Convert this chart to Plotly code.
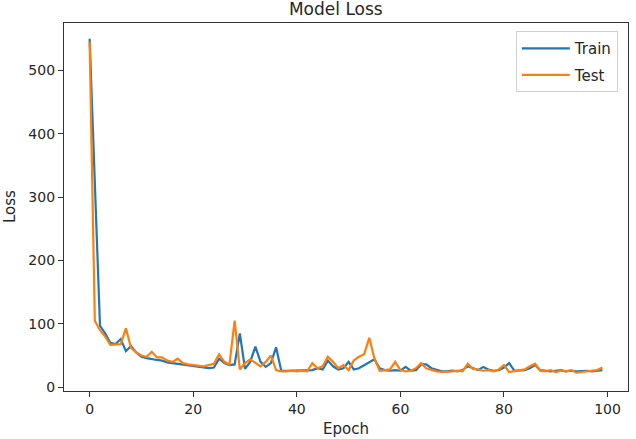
import plotly.graph_objects as go

epochs = list(range(100))

train_loss = [550, 330, 97, 85, 70, 68, 76, 57, 65, 55,
              48, 46, 44, 43, 42, 39, 38, 37, 35, 34,
              33, 32, 31, 30, 31, 45, 38, 35, 36, 85,
              29, 40, 64, 40, 32, 38, 63, 26, 26, 26,
              26, 27, 26, 27, 30, 28, 42, 33, 28, 30,
              40, 28, 30, 35, 40, 44, 30, 27, 26, 27,
              26, 32, 26, 27, 36, 36, 30, 27, 25, 25,
              26, 25, 27, 33, 30, 27, 32, 28, 26, 27,
              31, 38, 26, 27, 27, 30, 35, 27, 26, 25,
              26, 27, 25, 26, 25, 26, 26, 25, 26, 27]

test_loss = [545, 105, 90, 80, 67, 67, 68, 93, 62, 55,
             50, 48, 56, 47, 47, 42, 40, 45, 38, 36,
             35, 34, 33, 35, 37, 52, 40, 36, 105, 28,
             38, 44, 38, 33, 40, 50, 27, 25, 25, 26,
             25, 26, 25, 38, 30, 33, 48, 40, 30, 35,
             27, 42, 48, 52, 78, 45, 26, 27, 28, 40,
             27, 25, 26, 30, 38, 30, 27, 25, 24, 24,
             25, 26, 25, 37, 29, 28, 26, 27, 25, 28,
             35, 24, 25, 26, 28, 33, 37, 26, 25, 27,
             24, 26, 25, 27, 23, 24, 25, 25, 27, 31]

x_ticks = [0, 20, 40, 60, 80, 100]
y_ticks = [0, 100, 200, 300, 400, 500]

FONT = "DejaVu Sans"
AX = "#333333"

fig = go.Figure()
fig.add_trace(go.Scatter(x=epochs, y=train_loss, mode="lines", name="Train",
                         line=dict(color="#1f77b4", width=2.2), legendgroup="a"))
fig.add_trace(go.Scatter(x=epochs, y=test_loss, mode="lines", name="Test",
                         line=dict(color="#ff7f0e", width=2.2), legendgroup="b"))

axis_common = dict(showgrid=False, zeroline=False, showline=True, linecolor=AX,
                   linewidth=1.2, mirror=True, ticks="outside", ticklen=5,
                   tickcolor=AX, tickwidth=1.2,
                   tickfont=dict(family=FONT, size=14, color="#262626"))

fig.update_xaxes(range=[-4.95, 103.95], tickvals=x_ticks, **axis_common)
fig.update_yaxes(range=[-6, 575], tickvals=y_ticks, **axis_common)

fig.update_layout(
    width=636, height=439,
    margin=dict(l=64, r=8, t=23, b=48),
    plot_bgcolor="white", paper_bgcolor="white",
    showlegend=True,
    legend=dict(x=0.982, y=0.978, xanchor="right", yanchor="top",
                bgcolor="rgba(255,255,255,0.8)", bordercolor="#d0d0d0",
                borderwidth=1, font=dict(family=FONT, size=15, color="#262626"),
                tracegroupgap=4, traceorder="grouped", itemwidth=48),
    title=dict(text="Model Loss", x=0.528, xanchor="center", y=1 - 9 / 439,
               yanchor="middle", yref="container",
               font=dict(family=FONT, size=17, color="#262626")),
    annotations=[
        dict(text="Epoch", xref="paper", yref="paper", x=0.5, y=-0.103,
             xanchor="center", yanchor="middle", showarrow=False,
             font=dict(family=FONT, size=15, color="#262626")),
        dict(text="Loss", xref="paper", yref="paper", x=-0.0957, y=0.5,
             xanchor="center", yanchor="middle", showarrow=False, textangle=-90,
             font=dict(family=FONT, size=15, color="#262626")),
    ],
)

fig.write_html("out.html")
